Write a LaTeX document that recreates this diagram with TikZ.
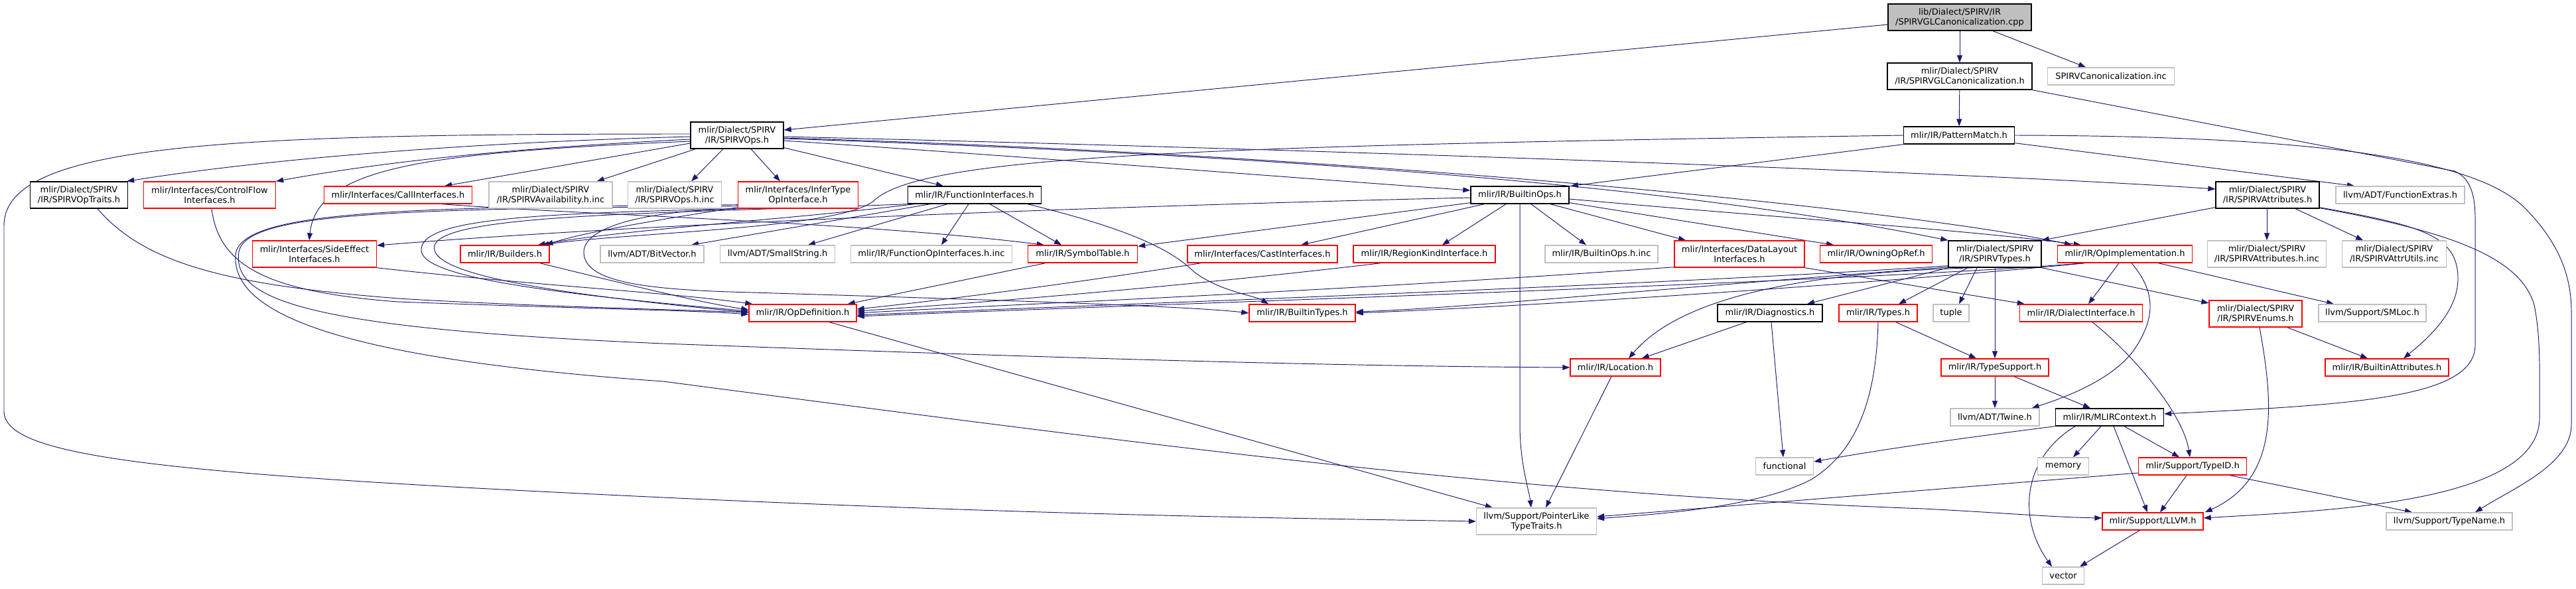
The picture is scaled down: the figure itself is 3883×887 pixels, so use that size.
\documentclass[tikz,border=0pt]{standalone}
\usepackage{fontspec}
\newfontfamily\dv{DejaVu Sans}
\usetikzlibrary{arrows.meta,calc}
\definecolor{midblue}{HTML}{191970}
\definecolor{grey75}{HTML}{BFBFBF}
\definecolor{rootfill}{HTML}{BFBFBF}
\pgfdeclarelayer{bgl}
\pgfdeclarelayer{edgel}
\pgfsetlayers{bgl,edgel,main}
\begin{document}
\begin{tikzpicture}[x=1pt,y=-1pt,
  nd/.style={draw, line width=1.4pt, inner sep=0pt, minimum height=26pt, align=center, fill=white, font=\dv\fontsize{13pt}{15pt}\selectfont, text=black},
  tl/.style={minimum height=40pt},
  bk/.style={nd, draw=black},
  rd/.style={nd, draw=red},
  gy/.style={nd, draw=grey75},
  edg/.style={draw=midblue, line width=0.95pt, -{Triangle[length=11pt,width=8pt]}}
]
\useasboundingbox (0,0) rectangle (3883,887);
\begin{pgfonlayer}{bgl}
\fill[white] (0,0) rectangle (3883,887);
\end{pgfonlayer}
% ---------- nodes ----------
\node[bk,tl,fill=rootfill,minimum width=216pt] (root) at (2954,26) {lib/Dialect/SPIRV/IR\\/SPIRVGLCanonicalization.cpp};
\node[bk,tl,minimum width=218pt] (glcanon) at (2954,115) {mlir/Dialect/SPIRV\\/IR/SPIRVGLCanonicalization.h};
\node[gy,minimum width=191pt] (caninc) at (3182,115) {SPIRVCanonicalization.inc};
\node[bk,minimum width=167pt] (pattern) at (2953,204) {mlir/IR/PatternMatch.h};
\node[bk,tl,minimum width=140pt] (spirvops) at (1111,204) {mlir/Dialect/SPIRV\\/IR/SPIRVOps.h};
% row 3
\node[bk,tl,minimum width=147pt] (optraits) at (119,294) {mlir/Dialect/SPIRV\\/IR/SPIRVOpTraits.h};
\node[rd,tl,minimum width=199pt] (cflow) at (316,294) {mlir/Interfaces/ControlFlow\\Interfaces.h};
\node[rd,minimum width=223pt] (callif) at (600,294) {mlir/Interfaces/CallInterfaces.h};
\node[gy,tl,minimum width=186pt] (avail) at (830,294) {mlir/Dialect/SPIRV\\/IR/SPIRVAvailability.h.inc};
\node[gy,tl,minimum width=141pt] (opsinc) at (1017,294) {mlir/Dialect/SPIRV\\/IR/SPIRVOps.h.inc};
\node[rd,tl,minimum width=181pt] (infer) at (1203,294) {mlir/Interfaces/InferType\\OpInterface.h};
\node[bk,minimum width=201pt] (funcif) at (1469,294) {mlir/IR/FunctionInterfaces.h};
\node[bk,minimum width=148pt] (builtinops) at (2291,294) {mlir/IR/BuiltinOps.h};
\node[bk,tl,minimum width=156pt] (spirvattr) at (3418,294) {mlir/Dialect/SPIRV\\/IR/SPIRVAttributes.h};
\node[gy,minimum width=194pt] (fextras) at (3618,294) {llvm/ADT/FunctionExtras.h};
% row 4
\node[rd,tl,minimum width=187pt] (sideeff) at (474,383) {mlir/Interfaces/SideEffect\\Interfaces.h};
\node[rd,minimum width=134pt] (builders) at (761,383) {mlir/IR/Builders.h};
\node[gy,minimum width=156pt] (bitvec) at (983,383) {llvm/ADT/BitVector.h};
\node[gy,minimum width=173pt] (smallstr) at (1172,383) {llvm/ADT/SmallString.h};
\node[gy,minimum width=243pt] (fopinc) at (1404,383) {mlir/IR/FunctionOpInterfaces.h.inc};
\node[rd,minimum width=165pt] (symtab) at (1632,383) {mlir/IR/SymbolTable.h};
\node[rd,minimum width=226pt] (castif) at (1903,383) {mlir/Interfaces/CastInterfaces.h};
\node[rd,minimum width=214pt] (regionkind) at (2147,383) {mlir/IR/RegionKindInterface.h};
\node[gy,minimum width=170pt] (boinc) at (2414,383) {mlir/IR/BuiltinOps.h.inc};
\node[rd,tl,minimum width=196pt] (datalayout) at (2622,383) {mlir/Interfaces/DataLayout\\Interfaces.h};
\node[rd,minimum width=169pt] (owning) at (2828,383) {mlir/IR/OwningOpRef.h};
\node[bk,tl,minimum width=140pt] (spirvtypes) at (3007,383) {mlir/Dialect/SPIRV\\/IR/SPIRVTypes.h};
\node[rd,minimum width=203pt] (opimpl) at (3203,383) {mlir/IR/OpImplementation.h};
\node[gy,tl,minimum width=179pt] (attrinc) at (3417,383) {mlir/Dialect/SPIRV\\/IR/SPIRVAttributes.h.inc};
\node[gy,tl,minimum width=157pt] (attrutils) at (3609,383) {mlir/Dialect/SPIRV\\/IR/SPIRVAttrUtils.inc};
% row 5
\node[rd,minimum width=162pt] (opdef) at (1210,472) {mlir/IR/OpDefinition.h};
\node[rd,minimum width=160pt] (btypes) at (1963,472) {mlir/IR/BuiltinTypes.h};
\node[bk,minimum width=158pt] (diag) at (2668,472) {mlir/IR/Diagnostics.h};
\node[rd,minimum width=118pt] (types) at (2831,472) {mlir/IR/Types.h};
\node[gy,minimum width=54pt] (tuple) at (2941,472) {tuple};
\node[rd,minimum width=185pt] (dialectif) at (3137,472) {mlir/IR/DialectInterface.h};
\node[rd,tl,minimum width=140pt] (enums) at (3400,473) {mlir/Dialect/SPIRV\\/IR/SPIRVEnums.h};
\node[gy,minimum width=162pt] (smloc) at (3576,472) {llvm/Support/SMLoc.h};
% row 6
\node[rd,minimum width=136pt] (location) at (2435,554) {mlir/IR/Location.h};
\node[rd,minimum width=162pt] (typesupport) at (3007,554) {mlir/IR/TypeSupport.h};
\node[rd,minimum width=186pt] (battr) at (3598,554) {mlir/IR/BuiltinAttributes.h};
% row 7
\node[gy,minimum width=134pt] (twine) at (3007,629) {llvm/ADT/Twine.h};
\node[bk,minimum width=163pt] (mlirctx) at (3180,629) {mlir/IR/MLIRContext.h};
% row 8
\node[gy,minimum width=87pt] (functional) at (2690,703) {functional};
\node[gy,minimum width=77pt] (memory) at (3110,703) {memory};
\node[rd,minimum width=163pt] (typeid) at (3305,703) {mlir/Support/TypeID.h};
% row 9
\node[gy,tl,minimum width=181pt] (pointerlike) at (2316,786) {llvm/Support/PointerLike\\TypeTraits.h};
\node[rd,minimum width=152pt] (llvmh) at (3245,786) {mlir/Support/LLVM.h};
\node[gy,minimum width=190pt] (typename) at (3692,786) {llvm/Support/TypeName.h};
% row 10
\node[gy,minimum width=63pt] (vector) at (3110,868) {vector};
% ---------- edges ----------
\begin{pgfonlayer}{edgel}
% root
\draw[edg] ($(root.west)+(0,11)$) -- ($(spirvops.east)+(0,-8)$);
\draw[edg] (root) -- (glcanon);
\draw[edg] ($(root.south)+(50,0)$) -- ($(caninc.north)+(-38,0)$);
% glcanon
\draw[edg] (glcanon) -- (pattern);
\draw[edg] (glcanon.south east) -- (3700,258) .. controls (3722,268) and (3731,290) .. (3731,330) -- (3731,520) .. controls (3731,600) and (3550,610) .. ($(mlirctx.east)+(0,-5)$);
% pattern
\draw[edg] (pattern.south west) -- ($(builtinops.north east)+(2,0)$);
\draw[edg] (pattern.west) .. controls (1800,220) and (1400,235) .. (1320,300) .. controls (1280,345) and (950,350) .. ($(builders.north east)+(-12,0)$);
\draw[edg] ($(pattern.south east)+(0,-2)$) -- ($(fextras.north)+(-69,0)$);
\draw[edg] (pattern.east) .. controls (3500,205) and (3740,240) .. (3810,318) .. controls (3860,370) and (3876,420) .. (3876,470) -- (3876,640) .. controls (3876,700) and (3790,735) .. ($(typename.north)+(39,0)$);
% spirvops
\draw[edg] ($(spirvops.west)+(0,2)$) .. controls (700,215) and (400,240) .. ($(optraits.north east)+(-2,0)$);
\draw[edg] ($(spirvops.west)+(0,6)$) .. controls (800,222) and (600,240) .. (cflow.north east);
\draw[edg] ($(spirvops.west)+(0,12)$) -- ($(callif.north east)+(-42,0)$);
\draw[edg] ($(spirvops.south west)+(8,0)$) -- ($(avail.north east)+(-24,0)$);
\draw[edg] ($(spirvops.south)+(-21,0)$) -- ($(opsinc.north)+(25,0)$);
\draw[edg] ($(spirvops.south)+(21,0)$) -- ($(infer.north)+(-27,0)$);
\draw[edg] ($(spirvops.south east)+(0,-2)$) -- ($(funcif.north)+(-47,0)$);
\draw[edg] ($(spirvops.west)+(0,9)$) .. controls (650,230) and (478,250) .. ($(sideeff.north)+(-8,0)$);
\draw[edg] ($(spirvops.west)+(0,-2)$) .. controls (350,202) and (6,215) .. (6,340) -- (6,620) .. controls (6,690) and (250,715) .. (1000,750) .. controls (1600,778) and (2000,782) .. (pointerlike.west);
\draw[edg] ($(spirvops.east)+(0,8)$) .. controls (1600,240) and (2000,272) .. ($(builtinops.west)+(0,-7)$);
\draw[edg] ($(spirvops.east)+(0,2)$) .. controls (2100,228) and (3000,262) .. ($(spirvattr.west)+(0,-9)$);
\draw[edg] ($(spirvops.east)+(0,5)$) .. controls (2100,240) and (2600,295) .. (spirvtypes.north west);
\draw[edg] ($(spirvops.east)+(0,4)$) .. controls (2100,235) and (2900,320) .. ($(opimpl.north west)+(22,0)$);
% infer
\draw[edg] ($(infer.south west)+(0,-2)$) .. controls (1000,330) and (880,350) .. ($(builders.north east)+(-6,0)$);
\draw[edg] (infer.south west) .. controls (960,318) and (880,345) .. (880,380) .. controls (880,420) and (950,435) .. (1100,440) .. controls (1500,452) and (1800,462) .. (btypes.west);
\draw[edg] (infer.south west) .. controls (800,322) and (640,330) .. (635,375) .. controls (630,415) and (800,440) .. ($(opdef.west)+(0,-3)$);
\draw[edg] ($(infer.south west)+(0,-4)$) .. controls (600,315) and (370,320) .. (360,380) .. controls (350,450) and (450,495) .. (1000,518) .. controls (1600,540) and (2000,552) .. (location.west);
\draw[edg] ($(infer.south west)+(0,-6)$) .. controls (600,312) and (360,318) .. (355,385) .. controls (350,470) and (500,540) .. (1000,575) .. controls (1800,680) and (2300,745) .. (2900,767) .. controls (3000,772) and (3100,780) .. ($(llvmh.west)+(0,-5)$);
% funcif
\draw[edg] ($(funcif.south west)+(10,0)$) .. controls (1200,330) and (950,345) .. ($(builders.north east)+(-18,0)$);
\draw[edg] ($(funcif.south west)+(34,0)$) -- ($(bitvec.north)+(59,0)$);
\draw[edg] ($(funcif.south)+(-41,0)$) -- ($(smallstr.north)+(46,0)$);
\draw[edg] ($(funcif.south)+(-9,0)$) -- ($(fopinc.north)+(15,0)$);
\draw[edg] ($(funcif.south)+(23,0)$) -- ($(symtab.north)+(-32,0)$);
\draw[edg] ($(funcif.south east)+(-21,0)$) .. controls (1680,340) and (1760,370) .. (1800,410) .. controls (1840,440) and (1890,445) .. ($(btypes.north)+(-51,0)$);
\draw[edg] (funcif.south west) .. controls (1000,322) and (670,322) .. (655,370) .. controls (645,410) and (800,440) .. ($(opdef.west)+(0,-1)$);
% builtinops
\draw[edg] ($(builtinops.west)+(0,4)$) .. controls (1700,310) and (1000,335) .. ($(sideeff.east)+(0,-13)$);
\draw[edg] ($(builtinops.south west)+(0,-2)$) -- ($(symtab.north east)+(0,2)$);
\draw[edg] ($(builtinops.south west)+(21,0)$) -- ($(castif.north)+(58,0)$);
\draw[edg] ($(builtinops.south)+(-21,0)$) -- ($(regionkind.north)+(27,0)$);
\draw[edg] (builtinops.south) -- (2291,640) .. controls (2291,700) and (2305,740) .. ($(pointerlike.north)+(-8,0)$);
\draw[edg] ($(builtinops.south)+(17,0)$) -- ($(boinc.north)+(-23,0)$);
\draw[edg] ($(builtinops.south)+(46,0)$) -- ($(datalayout.north)+(-81,0)$);
\draw[edg] ($(builtinops.south east)+(0,-2)$) -- ($(owning.north)+(-64,0)$);
\draw[edg] ($(builtinops.east)+(0,6)$) .. controls (2700,330) and (2950,345) .. ($(opimpl.north west)+(36,0)$);
% spirvattr
\draw[edg] ($(spirvattr.south west)+(0,-2)$) -- (spirvtypes.north east);
\draw[edg] ($(spirvattr.south)+(-1,0)$) -- (attrinc.north);
\draw[edg] ($(spirvattr.south)+(42,0)$) -- ($(attrutils.north)+(-47,0)$);
\draw[edg] ($(spirvattr.south east)+(0,-2)$) .. controls (3650,340) and (3705,355) .. (3705,420) .. controls (3705,470) and (3660,510) .. ($(battr.north)+(25,0)$);
\draw[edg] ($(spirvattr.south east)+(0,-1)$) .. controls (3700,350) and (3800,390) .. (3820,460) .. controls (3830,510) and (3828,560) .. (3828,630) .. controls (3828,760) and (3500,770) .. ($(llvmh.east)+(0,-5)$);
% into opdef
\draw[edg] ($(optraits.south)+(28,0)$) .. controls (220,400) and (350,430) .. (600,450) .. controls (800,462) and (1000,466) .. ($(opdef.west)+(0,-1)$);
\draw[edg] ($(cflow.south)+(3,0)$) .. controls (330,400) and (400,440) .. (600,455) .. controls (900,466) and (1050,468) .. ($(opdef.west)+(0,2)$);
\draw[edg] (sideeff.south east) .. controls (800,430) and (1000,440) .. ($(opdef.north west)+(6,0)$);
\draw[edg] ($(builders.south east)+(-15,0)$) .. controls (950,430) and (1050,455) .. ($(opdef.west)+(0,-5)$);
\draw[edg] ($(symtab.south west)+(27,0)$) -- ($(opdef.north east)+(-14,0)$);
\draw[edg] ($(castif.south west)+(21,0)$) .. controls (1600,430) and (1400,455) .. ($(opdef.east)+(0,-6)$);
\draw[edg] ($(regionkind.south west)+(42,0)$) .. controls (1800,430) and (1500,455) .. ($(opdef.east)+(0,-3)$);
\draw[edg] ($(datalayout.south west)+(0,-1)$) .. controls (2000,440) and (1500,460) .. (opdef.east);
\draw[edg] ($(spirvtypes.south west)+(0,-3)$) .. controls (2500,430) and (1600,462) .. ($(opdef.east)+(0,3)$);
\draw[edg] ($(opimpl.south west)+(40,0)$) .. controls (2800,425) and (1700,460) .. ($(opdef.east)+(0,5)$);
% into btypes
\draw[edg] ($(spirvtypes.south west)+(0,-1)$) .. controls (2500,435) and (2200,465) .. ($(btypes.east)+(0,-2)$);
\draw[edg] ($(opimpl.south west)+(42,0)$) .. controls (2800,430) and (2300,462) .. (btypes.east);
% spirvtypes
\draw[edg] ($(spirvtypes.south west)+(40,0)$) .. controls (2750,410) and (2540,440) .. ($(location.north)+(20,0)$);
\draw[edg] (spirvtypes.south west) -- ($(diag.north)+(56,0)$);
\draw[edg] ($(spirvtypes.south west)+(30,0)$) -- ($(types.north)+(31,0)$);
\draw[edg] ($(spirvtypes.south)+(-27,0)$) -- ($(tuple.north)+(12,0)$);
\draw[edg] (spirvtypes) -- (typesupport);
\draw[edg] (spirvtypes.south east) -- ($(enums.west)+(0,-16)$);
% opimpl
\draw[edg] ($(opimpl.south)+(-9,0)$) -- ($(dialectif.north)+(11,0)$);
\draw[edg] ($(opimpl.south)+(10,0)$) .. controls (3250,440) and (3250,480) .. (3215,530) .. controls (3180,575) and (3110,600) .. ($(twine.north east)+(-12,0)$);
\draw[edg] ($(opimpl.south east)+(-52,0)$) -- ($(smloc.north)+(-58,0)$);
% datalayout
\draw[edg] (datalayout.south east) -- ($(dialectif.north west)+(8,0)$);
% diag
\draw[edg] ($(diag.south west)+(44,0)$) -- ($(location.north east)+(-29,0)$);
\draw[edg] ($(diag.south)+(2,0)$) -- ($(functional.north)+(-2,0)$);
% types
\draw[edg] ($(types.south east)+(-33,0)$) -- ($(typesupport.north)+(-28,0)$);
\draw[edg] (types.south) .. controls (2828,600) and (2800,680) .. (2730,723) .. controls (2650,765) and (2500,775) .. ($(pointerlike.east)+(0,-4)$);
% typesupport
\draw[edg] (typesupport) -- (twine);
\draw[edg] ($(typesupport.south)+(29,0)$) -- ($(mlirctx.north)+(-29,0)$);
% mlirctx
\draw[edg] (mlirctx.south west) .. controls (3000,655) and (2850,675) .. ($(functional.east)+(0,-7)$);
\draw[edg] ($(mlirctx.south)+(-13,0)$) -- ($(memory.north)+(15,0)$);
\draw[edg] ($(mlirctx.south)+(22,0)$) -- ($(typeid.north)+(-20,0)$);
\draw[edg] ($(mlirctx.south)+(6,0)$) -- ($(llvmh.north)+(-8,0)$);
\draw[edg] ($(mlirctx.south)+(-52,0)$) .. controls (3050,690) and (3040,780) .. ($(vector.north)+(-17,0)$);
% typeid
\draw[edg] ($(typeid.south)+(-9,0)$) -- ($(llvmh.north)+(11,0)$);
\draw[edg] ($(typeid.south east)+(-26,0)$) -- ($(typename.north)+(-56,0)$);
\draw[edg] ($(typeid.west)+(0,10)$) -- ($(pointerlike.east)+(0,-7)$);
% dialectif
\draw[edg] ($(dialectif.south)+(17,0)$) .. controls (3210,530) and (3290,620) .. ($(typeid.north)+(-4,0)$);
% enums
\draw[edg] ($(enums.south east)+(-23,0)$) -- ($(battr.north)+(-29,0)$);
\draw[edg] ($(enums.south)+(6,0)$) .. controls (3425,600) and (3440,720) .. ($(llvmh.north east)+(2,0)$);
% location, opdef, llvm, callif
\draw[edg] ($(location.south)+(-6,0)$) -- ($(pointerlike.north)+(14,0)$);
\draw[edg] ($(opdef.south)+(40,0)$) -- ($(pointerlike.north west)+(25,0)$);
\draw[edg] ($(llvmh.south)+(-20,0)$) -- ($(vector.north)+(25,0)$);
\draw[edg] ($(callif.south east)+(-46,0)$) .. controls (900,325) and (1300,335) .. ($(symtab.north west)+(25,0)$);
\end{pgfonlayer}
\end{tikzpicture}
\end{document}
